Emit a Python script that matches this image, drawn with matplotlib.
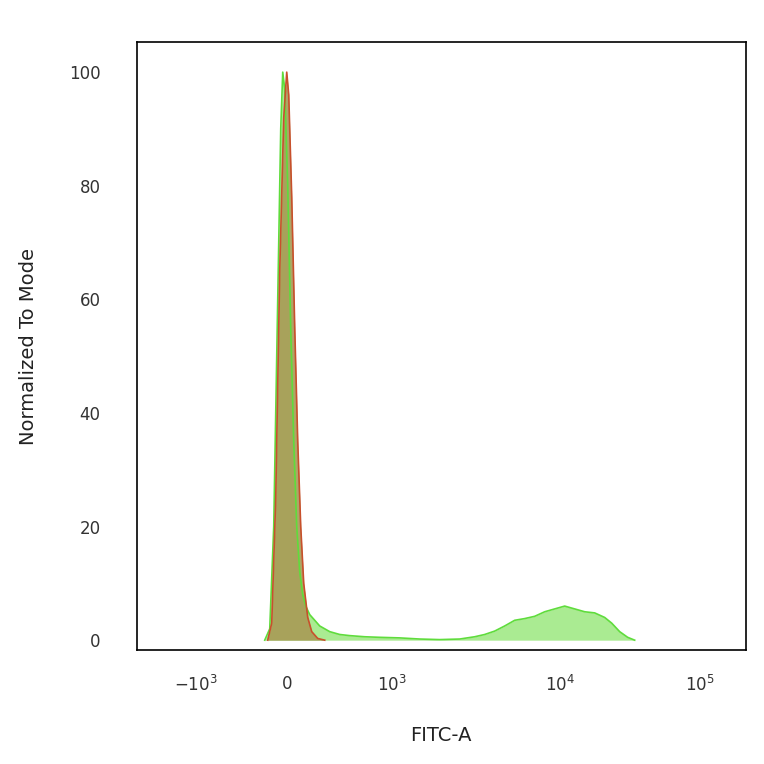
import matplotlib
matplotlib.use("Agg")
import matplotlib.pyplot as plt
import numpy as np

# display channel positions (biexponential axis, arbitrary linear units)
tick_pos = [196, 287, 392, 560, 700]
tick_labels = [r"$-10^3$", "0", r"$10^3$", r"$10^4$", r"$10^5$"]

# stained sample (green)
green_x = [265, 270, 274, 278, 281, 283, 285, 288, 291, 294, 297, 300, 303, 306, 310, 315, 320, 330,
           340, 350, 365, 380, 400, 420, 440, 460, 475, 485, 495, 505, 515, 525, 535, 545, 555,
           565, 575, 585, 595, 605, 612, 620, 628, 635]
green_y = [0, 2, 20, 60, 90, 100, 97, 80, 55, 35, 20, 12, 8, 6, 4.5, 3.5, 2.5, 1.5,
           1.0, 0.8, 0.6, 0.5, 0.4, 0.2, 0.1, 0.2, 0.6, 1, 1.6, 2.5, 3.5, 3.8, 4.2, 5, 5.5,
           6, 5.5, 5, 4.8, 4, 3, 1.5, 0.5, 0]

# isotype control (red)
red_x = [268, 272, 276, 280, 284, 287, 289, 292, 295, 298, 301, 304, 308, 312, 318, 325]
red_y = [0, 3, 25, 65, 92, 100, 96, 78, 55, 35, 20, 10, 4, 1.5, 0.3, 0]

fig, ax = plt.subplots(figsize=(7.64, 7.64), dpi=100)
fig.subplots_adjust(left=0.179, right=0.976, top=0.945, bottom=0.149)

ax.fill_between(green_x, green_y, color="#9be87f", alpha=0.85, lw=0)
ax.plot(green_x, green_y, color="#5fdc3c", lw=1.2)
ax.fill_between(red_x, red_y, color="#a89a55", alpha=0.9, lw=0)
ax.plot(red_x, red_y, color="#c8502c", lw=1.2)

ax.set_xlim(137, 746)
ax.set_ylim(-1.76, 105.3)
ax.set_xticks(tick_pos)
ax.set_xticklabels(tick_labels)
ax.set_yticks([0, 20, 40, 60, 80, 100])
ax.tick_params(axis="x", length=0, labelsize=12, colors="#333333", pad=18)
ax.tick_params(axis="y", length=0, labelsize=12, colors="#333333", pad=26)
ax.set_xlabel("FITC-A", fontsize=14, color="#222222", labelpad=22)
ax.set_ylabel("Normalized To Mode", fontsize=14, color="#222222", labelpad=22)
for s in ax.spines.values():
    s.set_linewidth(1.2)

fig.savefig("out.png", dpi=100)
